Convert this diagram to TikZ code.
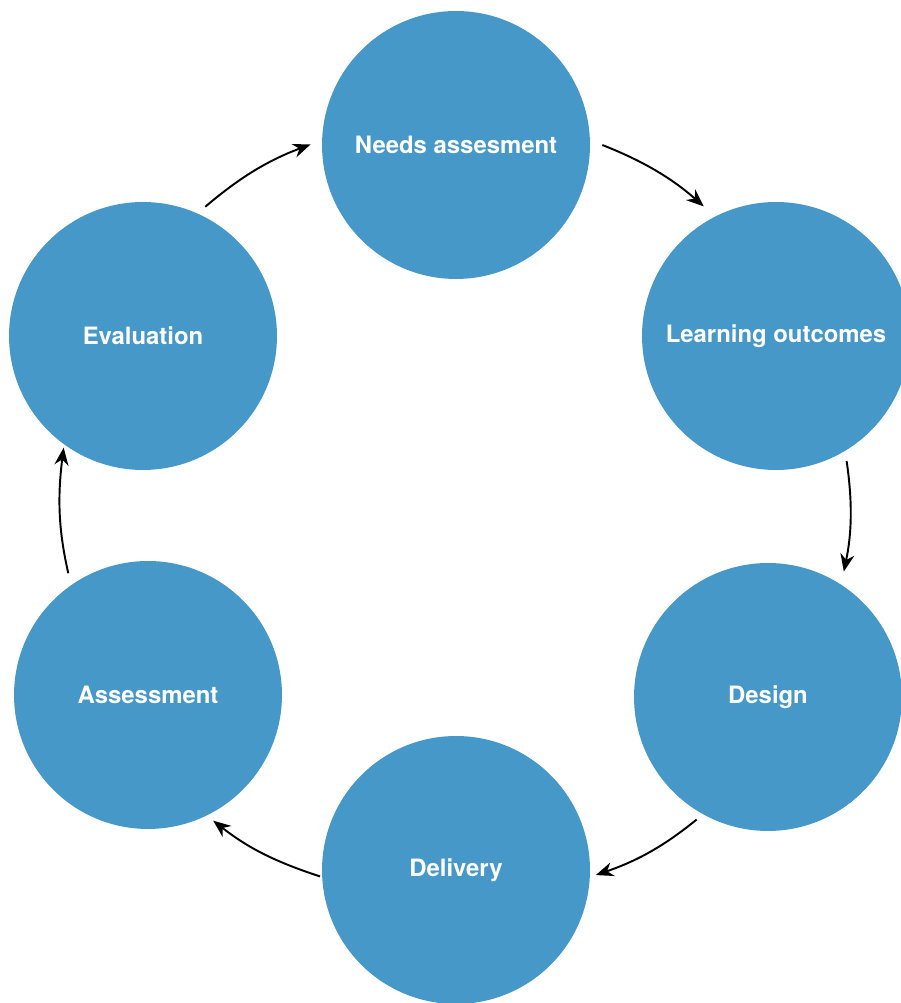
\documentclass[tikz,border=0pt]{standalone}
\usepackage{fontspec}
\setmainfont{TeX Gyre Heros}
\usetikzlibrary{arrows.meta}
\definecolor{stageblue}{HTML}{4698C9}
\begin{document}
\begin{tikzpicture}[x=0.02cm,y=0.02cm,
		stage/.style={circle,fill=stageblue,text=white,inner sep=0pt,minimum size=5.36cm,font=\fontsize{13.6}{16}\selectfont\bfseries},
		cycarrow/.style={line width=1.1pt,-{Stealth[length=10pt,width=8pt]},bend left=10}]
			\useasboundingbox (0,0) rectangle (900,1003);
			\node[stage] (na) at (456,858) {Needs assesment};
			\node[stage] (lo) at (776,667) {Learning outcomes};
			\node[stage] (de) at (768,306) {Design};
			\node[stage] (dl) at (456,133) {Delivery};
			\node[stage] (as) at (148,308) {Assessment};
			\node[stage] (ev) at (143,667) {Evaluation};
			% arrows round the cycle
			\draw[cycarrow,shorten <=0.2cm,shorten >=0.24cm] (ev.66) to (na.178);
			\draw[cycarrow,shorten <=0.26cm,shorten >=0.3cm] (na.2) to (lo.117);
			\draw[cycarrow,shorten <=0.2cm,shorten >=0.26cm] (lo.-59) to (de.57);
			\draw[cycarrow,shorten <=0.16cm,shorten >=0.12cm] (de.-119) to (dl.-3);
			\draw[cycarrow,shorten <=0.04cm,shorten >=0.16cm] (dl.183) to (as.-64);
			\draw[cycarrow,shorten <=0.24cm,shorten >=0.06cm] (as.125) to (ev.-126);
		\end{tikzpicture}
\end{document}
